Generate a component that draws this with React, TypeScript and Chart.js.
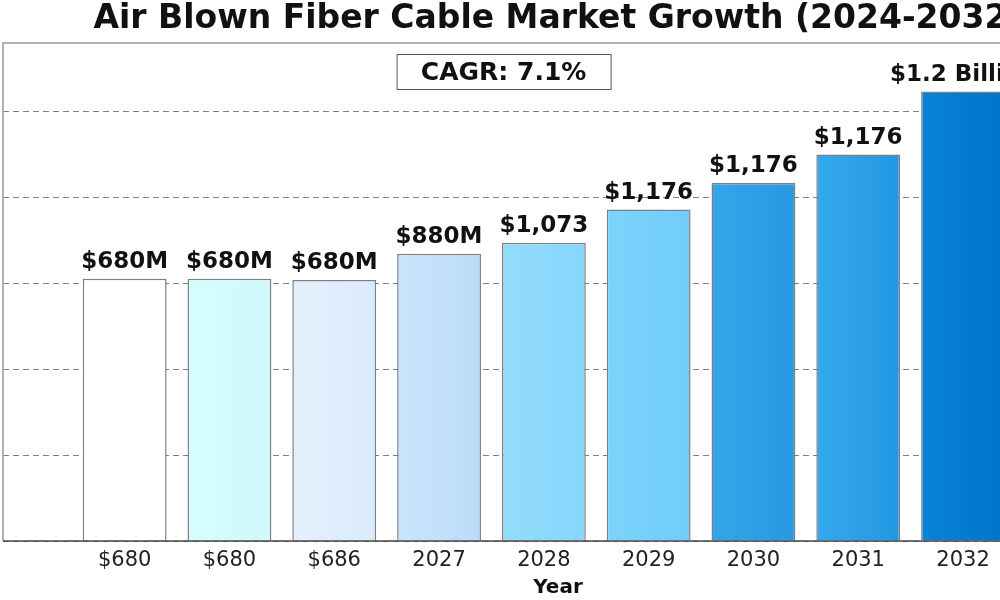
import { useEffect, useRef } from 'react';
import { Chart, registerables } from 'chart.js';

Chart.register(...registerables);

const titleText = 'Air Blown Fiber Cable Market Growth (2024-2032)';
const cagrText = 'CAGR: 7.1%';
const xAxisTitle = 'Year';
const tickLabels = ['$680', '$680', '$686', '2027', '2028', '2029', '2030', '2031', '2032'];
const marketValues = [611, 611, 608, 669, 695, 772, 834, 900, 1047];
const valueLabels = ['$680M', '$680M', '$680M', '$880M', '$1,073', '$1,176', '$1,176', '$1,176', '$1.2 Billion'];
const gridValues = [0, 200, 400, 600, 800, 1000];

const barColorsLeft = ['#ffffff', '#d6fdfe', '#e4f0fd', '#c9e5fb', '#93ddfc', '#7cd4fc', '#33a7ea', '#34a9ec', '#0a83d6'];
const barColorsRight = ['#ffffff', '#d0f8fc', '#daebfc', '#bbdbfa', '#86d5fb', '#70ccfa', '#2898e0', '#2298e3', '#0074ca'];

const FONT = '"DejaVu Sans", "Liberation Sans", sans-serif';

const decorations = {
  id: 'decorations',
  afterDraw(chart: any) {
    const { ctx, chartArea: a } = chart;
    ctx.save();
    // frame
    ctx.strokeStyle = '#9a9a9a';
    ctx.lineWidth = 1.5;
    ctx.beginPath();
    ctx.moveTo(a.left, a.bottom);
    ctx.lineTo(a.left, a.top);
    ctx.lineTo(a.right, a.top);
    ctx.lineTo(a.right, a.bottom);
    ctx.stroke();
    ctx.strokeStyle = '#444444';
    ctx.beginPath();
    ctx.moveTo(a.left, a.bottom);
    ctx.lineTo(a.right, a.bottom);
    ctx.stroke();

    // title
    ctx.fillStyle = '#111111';
    ctx.textAlign = 'center';
    ctx.textBaseline = 'alphabetic';
    ctx.font = `bold 33px ${FONT}`;
    ctx.fillText(titleText, (a.left + a.right) / 2, 28);

    // CAGR box
    const bx = a.left + 0.451 * (a.right - a.left);
    const bw = 214;
    const bh = 35;
    const by = a.top + 11;
    ctx.fillStyle = '#ffffff';
    ctx.fillRect(bx - bw / 2, by, bw, bh);
    ctx.strokeStyle = '#555555';
    ctx.lineWidth = 1;
    ctx.strokeRect(bx - bw / 2 + 0.5, by + 0.5, bw, bh);
    ctx.fillStyle = '#111111';
    ctx.font = `bold 25px ${FONT}`;
    ctx.fillText(cagrText, bx, by + 26);

    // value labels
    const meta = chart.getDatasetMeta(0);
    ctx.font = `bold 23px ${FONT}`;
    meta.data.forEach((el: any, i: number) => {
      ctx.fillText(valueLabels[i], el.x, el.y - 11);
    });
    ctx.restore();
  },
};

export default function App() {
  const canvasRef = useRef<HTMLCanvasElement | null>(null);

  useEffect(() => {
    const canvas = canvasRef.current;
    if (!canvas) return;
    const chart = new Chart(canvas, {
      type: 'bar',
      data: {
        datasets: [
          {
            data: marketValues.map((v, i) => ({ x: i, y: v })),
            backgroundColor: (c: any) => {
              const i = c.dataIndex ?? 0;
              const xs = c.chart?.scales?.x;
              if (!xs) return barColorsLeft[i];
              const cx = xs.getPixelForValue(i);
              if (!Number.isFinite(cx)) return barColorsLeft[i];
              const g = c.chart.ctx.createLinearGradient(cx - 42, 0, cx + 42, 0);
              g.addColorStop(0, barColorsLeft[i]);
              g.addColorStop(1, barColorsRight[i]);
              return g;
            },
            borderColor: '#808080',
            borderWidth: 1.5,
            categoryPercentage: 1,
            barPercentage: 0.8,
          },
        ],
      },
      options: {
        responsive: false,
        animation: false,
        devicePixelRatio: 1,
        layout: { padding: { left: 3, right: 7, top: 43, bottom: 0 } },
        plugins: {
          legend: { display: false },
          title: { display: false },
          tooltip: { enabled: false },
        },
        scales: {
          x: {
            type: 'linear',
            offset: false,
            min: -1.161,
            max: 9.431,
            grid: { display: false, drawTicks: false, offset: false },
            border: { display: false },
            ticks: {
              stepSize: 1,
              autoSkip: false,
              maxRotation: 0,
              padding: 7,
              color: '#222222',
              font: { family: FONT, size: 21 },
              callback: (v: any) => {
                const n = Number(v);
                return Number.isInteger(n) && n >= 0 && n < tickLabels.length ? tickLabels[n] : '';
              },
            },
            title: {
              display: true,
              text: xAxisTitle,
              color: '#111111',
              font: { family: FONT, size: 20, weight: 'bold' },
              padding: { top: 0, bottom: 0 },
            },
            afterFit: (s: any) => {
              s.height = 59;
              s.paddingLeft = 0;
              s.paddingRight = 0;
            },
          },
          y: {
            min: 0,
            max: 1160,
            grid: { color: '#808080', lineWidth: 1, drawTicks: false },
            border: { display: false, dash: [6, 4] },
            ticks: { display: false },
            afterBuildTicks: (s: any) => {
              s.ticks = gridValues.map((v) => ({ value: v }));
            },
            afterFit: (s: any) => {
              s.width = 0;
              s.paddingTop = 0;
              s.paddingBottom = 0;
            },
          },
        },
      },
      plugins: [decorations],
    } as any);
    return () => chart.destroy();
  }, []);

  return (
    <div style={{ position: 'absolute', left: 0, top: 0, width: 1000, height: 600, overflow: 'hidden', background: '#ffffff' }}>
      <canvas ref={canvasRef} width={1120} height={600} style={{ display: 'block', width: 1120, height: 600 }} />
    </div>
  );
}
